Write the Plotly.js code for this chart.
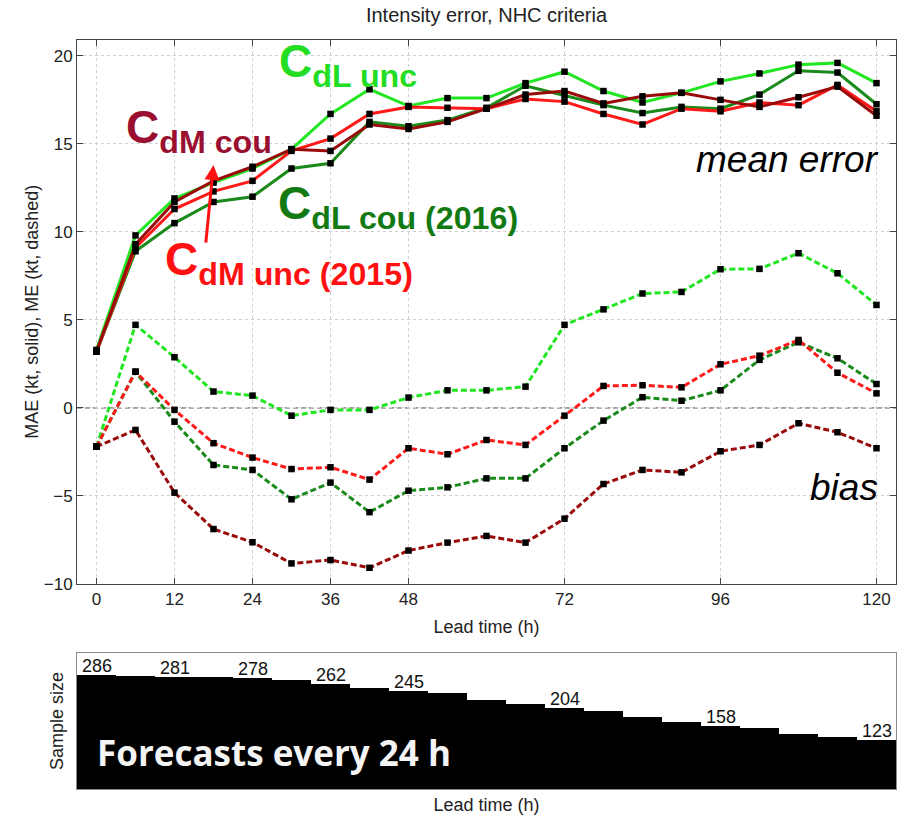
<!DOCTYPE html>
<html>
<head>
<meta charset="utf-8">
<script src="https://cdn.plot.ly/plotly-3.0.1.min.js"></script>
<style>
  html, body { margin: 0; padding: 0; background: #fff; }
  #chart { width: 907px; height: 817px; }
</style>
</head>
<body>
<div id="chart"></div>
<script>
// Forecast lead times (h)
const leadTime = [0, 6, 12, 18, 24, 30, 36, 42, 48, 54, 60, 66, 72, 78, 84, 90, 96, 102, 108, 114, 120];

// Mean absolute intensity error (kt)
const maeDLunc = [3.3, 9.8, 11.9, 12.8, 13.6, 14.7, 16.7, 18.1, 17.15, 17.6, 17.6, 18.45, 19.1, 18.0, 17.35, 17.9, 18.55, 19.0, 19.5, 19.6, 18.45];
const maeDLcou = [3.2, 8.9, 10.5, 11.7, 12.0, 13.6, 13.9, 16.25, 16.0, 16.35, 17.05, 18.3, 17.75, 17.2, 16.75, 17.1, 17.0, 17.8, 19.15, 19.05, 17.25];
const maeDMunc = [3.2, 9.1, 11.3, 12.3, 12.9, 14.6, 15.3, 16.7, 17.1, 17.05, 17.0, 17.55, 17.4, 16.7, 16.1, 17.0, 16.85, 17.35, 17.2, 18.35, 16.85];
const maeDMcou = [3.2, 9.3, 11.7, 12.9, 13.7, 14.7, 14.6, 16.1, 15.85, 16.25, 17.0, 17.8, 18.0, 17.3, 17.7, 17.9, 17.5, 17.1, 17.65, 18.25, 16.6];

// Mean (signed) intensity error, i.e. bias (kt)
const biasDLunc = [-2.2, 4.72, 2.88, 0.93, 0.70, -0.44, -0.11, -0.11, 0.59, 1.0, 1.0, 1.21, 4.72, 5.6, 6.5, 6.59, 7.88, 7.9, 8.79, 7.65, 5.85];
const biasDLcou = [-2.2, 2.06, -0.78, -3.24, -3.52, -5.19, -4.24, -5.92, -4.7, -4.51, -4.0, -4.0, -2.29, -0.72, 0.61, 0.41, 1.0, 2.73, 3.73, 2.82, 1.36];
const biasDMunc = [-2.2, 2.06, -0.11, -2.0, -2.82, -3.47, -3.37, -4.07, -2.29, -2.63, -1.82, -2.1, -0.44, 1.25, 1.29, 1.17, 2.48, 2.97, 3.86, 2.0, 0.83];
const biasDMcou = [-2.2, -1.25, -4.81, -6.88, -7.63, -8.83, -8.64, -9.08, -8.1, -7.65, -7.27, -7.65, -6.29, -4.32, -3.52, -3.66, -2.46, -2.1, -0.87, -1.38, -2.29];

// Number of verifying forecasts at each lead time
const sampleSize = [286, 284, 281, 280, 278, 273, 262, 253, 245, 240, 223, 213, 204, 195, 180, 169, 158, 154, 137, 130, 123];
const sampleLabelLeads = [0, 12, 24, 36, 48, 72, 96, 120];

const xTicks = [0, 12, 24, 36, 48, 72, 96, 120];

const COL = {
  dLunc: '#22e622',
  dLcou: '#1a8a1a',
  dMunc: '#ff1a1a',
  dMcou: '#990a0a'
};
const TXT = {
  dLunc: '#22dd22',
  dLcou: '#137a13',
  dMunc: '#ff1111',
  dMcou: '#9b1030'
};

const FONT = 'Liberation Sans, Arial, Helvetica, sans-serif';

const series = [
  { key: 'dLunc', mae: maeDLunc, bias: biasDLunc },
  { key: 'dLcou', mae: maeDLcou, bias: biasDLcou },
  { key: 'dMunc', mae: maeDMunc, bias: biasDMunc },
  { key: 'dMcou', mae: maeDMcou, bias: biasDMcou }
];

const traces = [];
// lines first: solid = MAE, dashed = bias
series.forEach(s => {
  traces.push({
    x: leadTime, y: s.mae, type: 'scatter', mode: 'lines',
    line: { color: COL[s.key], width: 3 }, hoverinfo: 'skip', showlegend: false,
    xaxis: 'x', yaxis: 'y'
  });
  traces.push({
    x: leadTime, y: s.bias, type: 'scatter', mode: 'lines',
    line: { color: COL[s.key], width: 3, dash: '6px,3px' }, hoverinfo: 'skip', showlegend: false,
    xaxis: 'x', yaxis: 'y'
  });
});
// black square markers on top of every line
series.forEach(s => {
  [s.mae, s.bias].forEach(v => {
    traces.push({
      x: leadTime, y: v, type: 'scatter', mode: 'markers',
      marker: { symbol: 'square', size: 6.5, color: '#000' }, hoverinfo: 'skip', showlegend: false,
      xaxis: 'x', yaxis: 'y'
    });
  });
});

// sample size steps
traces.push({
  x: leadTime, y: sampleSize, type: 'bar', width: 6,
  marker: { color: '#000', line: { width: 0 } },
  hoverinfo: 'skip', showlegend: false, xaxis: 'x2', yaxis: 'y2'
});

const annotations = [];

// series labels
function seriesLabel(main, sub, color, x, y) {
  annotations.push({
    xref: 'x', yref: 'y', x: x, y: y, xanchor: 'left', yanchor: 'middle',
    text: main + '<sub>' + sub + '</sub>', showarrow: false,
    font: { family: FONT, size: 46, color: color, weight: 'bold' }
  });
}
seriesLabel('C', 'dL unc', TXT.dLunc, 27.7, 19.5);
seriesLabel('C', 'dM cou', TXT.dMcou, 4.2, 15.75);
seriesLabel('C', 'dL cou (2016)', TXT.dLcou, 27.6, 11.45);
seriesLabel('C', 'dM unc (2015)', TXT.dMunc, 10.3, 8.25);

// arrow from the C_dM unc label to its line
annotations.push({
  xref: 'x', yref: 'y', x: 18.0, y: 13.8, axref: 'x', ayref: 'y', ax: 16.8, ay: 9.3,
  showarrow: true, arrowhead: 2, arrowsize: 1, arrowwidth: 3, arrowcolor: '#ff1111', text: ''
});

annotations.push({
  xref: 'x', yref: 'y', x: 120.7, y: 14.1, xanchor: 'right', yanchor: 'middle',
  text: '<i>mean error</i>', showarrow: false,
  font: { family: FONT, size: 37, color: '#000' }
});
annotations.push({
  xref: 'x', yref: 'y', x: 120.5, y: -4.5, xanchor: 'right', yanchor: 'middle',
  text: '<i>bias</i>', showarrow: false,
  font: { family: FONT, size: 37, color: '#000' }
});

// axis titles
annotations.push({
  xref: 'paper', yref: 'paper', x: -0.055, y: 0.637, xanchor: 'center', yanchor: 'middle',
  text: 'MAE (kt, solid), ME (kt, dashed)', textangle: -90, showarrow: false,
  font: { family: FONT, size: 18, color: '#222' }
});
annotations.push({
  xref: 'paper', yref: 'paper', x: -0.025, y: 0.09, xanchor: 'center', yanchor: 'middle',
  text: 'Sample size', textangle: -90, showarrow: false,
  font: { family: FONT, size: 18, color: '#222' }
});

// sample size labels over the steps
sampleLabelLeads.forEach(h => {
  const i = leadTime.indexOf(h);
  annotations.push({
    xref: 'x2', yref: 'y2', x: h - 2.5, y: sampleSize[i], xanchor: 'left', yanchor: 'bottom',
    text: String(sampleSize[i]), showarrow: false, yshift: -3,
    font: { family: FONT, size: 18, color: '#111' }
  });
});

annotations.push({
  xref: 'x2', yref: 'y2', x: -0.2, y: 92, xanchor: 'left', yanchor: 'middle',
  text: 'Forecasts every 24 h', showarrow: false,
  font: { family: 'Open Sans, Lato, sans-serif', size: 35, color: '#f4f4f4', weight: 'bold' }
});

const axisCommon = {
  showline: true, linecolor: '#444', linewidth: 1, mirror: 'ticks',
  ticks: 'inside', ticklen: 6, tickcolor: '#444',
  gridcolor: '#cfcfcf', griddash: 'dot', gridwidth: 1, zeroline: false,
  tickfont: { family: FONT, size: 17, color: '#222' }
};

const layout = {
  width: 907, height: 817,
  margin: { l: 77, r: 11, t: 40, b: 28 },
  paper_bgcolor: '#fff', plot_bgcolor: '#fff',
  showlegend: false,
  bargap: 0,
  title: {
    text: 'Intensity error, NHC criteria',
    xref: 'paper', x: 0.5, xanchor: 'center',
    yref: 'container', y: 1 - 15 / 817, yanchor: 'middle',
    font: { family: FONT, size: 20, color: '#222' }
  },
  xaxis: Object.assign({}, axisCommon, {
    domain: [0, 1], anchor: 'y', range: [-3, 123],
    tickmode: 'array', tickvals: xTicks,
    title: { text: 'Lead time (h)', font: { family: FONT, size: 18, color: '#222' }, standoff: 12 }
  }),
  yaxis: Object.assign({}, axisCommon, {
    domain: [0.2737, 1], anchor: 'x', range: [-10, 20.9],
    tickmode: 'linear', tick0: 0, dtick: 5
  }),
  xaxis2: {
    domain: [0, 1], anchor: 'y2', range: [-3, 123],
    showline: true, linecolor: '#8a8a8a', mirror: true,
    showgrid: false, zeroline: false, ticks: '', showticklabels: false,
    title: { text: 'Lead time (h)', font: { family: FONT, size: 18, color: '#222' }, standoff: 9 }
  },
  yaxis2: {
    domain: [0, 0.1816], anchor: 'x2', range: [0, 341],
    showline: true, linecolor: '#8a8a8a', mirror: true,
    showgrid: false, zeroline: false, ticks: '', showticklabels: false
  },
  shapes: [{
    type: 'line', xref: 'paper', yref: 'y', x0: 0, x1: 1, y0: 0, y1: 0,
    line: { color: '#444', width: 1, dash: '5px,3px' }, layer: 'below'
  }],
  annotations: annotations
};

Plotly.newPlot('chart', traces, layout, { displayModeBar: false, staticPlot: true });
</script>
</body>
</html>
